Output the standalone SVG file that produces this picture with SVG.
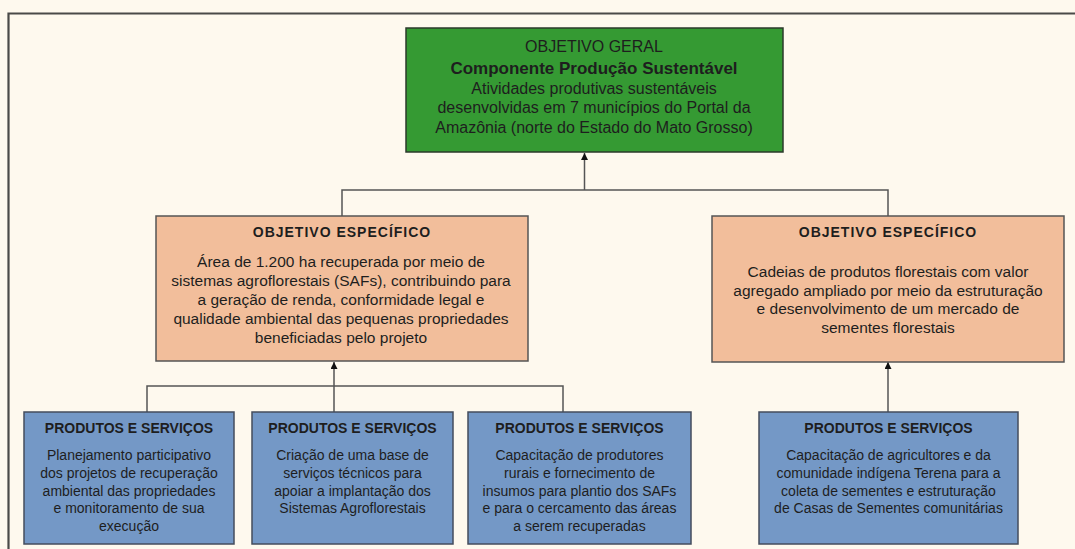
<svg xmlns="http://www.w3.org/2000/svg" width="1075" height="549" viewBox="0 0 1075 549">
<defs>
<style>
.t{font-family:"Liberation Sans",Arial,sans-serif;fill:#1e1e1e;text-anchor:middle}
.g{fill:#359a33;stroke:#2b3a2b;stroke-width:1.5}
.o{fill:#f2be9b;stroke:#555;stroke-width:1.5}
.b{fill:#7498c6;stroke:#444c5c;stroke-width:1.5}
.gt{font-size:16px}
.gb{font-size:17px;font-weight:bold}
.gx{font-size:16px}
.ot{font-size:14px;font-weight:bold;letter-spacing:1px}
.ox{font-size:15.5px}
.bt{font-size:14px;font-weight:bold}
.bx{font-size:14px}
.c{fill:none;stroke:#555;stroke-width:1.5}
</style>
<marker id="arr" viewBox="0 0 10 10" refX="10" refY="5" markerWidth="7" markerHeight="7" orient="auto" markerUnits="userSpaceOnUse">
<path d="M0,0 L10,5 L0,10 z" fill="#111"/>
</marker>
</defs>
<rect x="0" y="0" width="1075" height="549" fill="#fef9ee"/>
<path d="M8.5,549 V13.5 H1075" fill="none" stroke="#4a4a48" stroke-width="2.2"/>

<g id="connectors">
<path class="c" d="M584.5,190 V153" marker-end="url(#arr)"/>
<path class="c" d="M342,216 V190 H888 V216"/>
<path class="c" d="M334,412 V362" marker-end="url(#arr)"/>
<path class="c" d="M147,412 V386 H563 V412"/>
<path class="c" d="M888,412 V362" marker-end="url(#arr)"/>
</g>

<g id="geral">
<rect class="g" x="406" y="28" width="377" height="124"/>
<text class="t gt" x="594" y="52">OBJETIVO GERAL</text>
<text class="t gb" x="594" y="74">Componente Produção Sustentável</text>
<text class="t gx" x="594" y="94">Atividades produtivas sustentáveis</text>
<text class="t gx" x="594" y="113">desenvolvidas em 7 municípios do Portal da</text>
<text class="t gx" x="594" y="133">Amazônia (norte do Estado do Mato Grosso)</text>
</g>

<g id="especifico1">
<rect class="o" x="156" y="216" width="372" height="145"/>
<text class="t ot" x="342" y="237">OBJETIVO ESPECÍFICO</text>
<text class="t ox" x="341" y="267">Área de 1.200 ha recuperada por meio de</text>
<text class="t ox" x="341" y="286">sistemas agroflorestais (SAFs), contribuindo para</text>
<text class="t ox" x="341" y="305">a geração de renda, conformidade legal e</text>
<text class="t ox" x="341" y="324">qualidade ambiental das pequenas propriedades</text>
<text class="t ox" x="341" y="343">beneficiadas pelo projeto</text>
</g>

<g id="especifico2">
<rect class="o" x="712" y="216" width="352" height="146"/>
<text class="t ot" x="888" y="237">OBJETIVO ESPECÍFICO</text>
<text class="t ox" x="888" y="277">Cadeias de produtos florestais com valor</text>
<text class="t ox" x="888" y="295.5">agregado ampliado por meio da estruturação</text>
<text class="t ox" x="888" y="314">e desenvolvimento de um mercado de</text>
<text class="t ox" x="888" y="332.5">sementes florestais</text>
</g>

<g id="produto1">
<rect class="b" x="24" y="412" width="210" height="132"/>
<text class="t bt" x="129" y="433">PRODUTOS E SERVIÇOS</text>
<text class="t bx" x="129" y="460">Planejamento participativo</text>
<text class="t bx" x="129" y="478">dos projetos de recuperação</text>
<text class="t bx" x="129" y="495.5">ambiental das propriedades</text>
<text class="t bx" x="129" y="513">e monitoramento de sua</text>
<text class="t bx" x="129" y="530.5">execução</text>
</g>

<g id="produto2">
<rect class="b" x="252" y="412" width="201" height="132"/>
<text class="t bt" x="352.5" y="433">PRODUTOS E SERVIÇOS</text>
<text class="t bx" x="352.5" y="460">Criação de uma base de</text>
<text class="t bx" x="352.5" y="478">serviços técnicos para</text>
<text class="t bx" x="352.5" y="495.5">apoiar a implantação dos</text>
<text class="t bx" x="352.5" y="513">Sistemas Agroflorestais</text>
</g>

<g id="produto3">
<rect class="b" x="468" y="412" width="223" height="132"/>
<text class="t bt" x="579.5" y="433">PRODUTOS E SERVIÇOS</text>
<text class="t bx" x="579.5" y="460">Capacitação de produtores</text>
<text class="t bx" x="579.5" y="478">rurais e fornecimento de</text>
<text class="t bx" x="579.5" y="495.5">insumos para plantio dos SAFs</text>
<text class="t bx" x="579.5" y="513">e para o cercamento das áreas</text>
<text class="t bx" x="579.5" y="530.5">a serem recuperadas</text>
</g>

<g id="produto4">
<rect class="b" x="759" y="412" width="259" height="132"/>
<text class="t bt" x="888.5" y="433">PRODUTOS E SERVIÇOS</text>
<text class="t bx" x="888.5" y="460">Capacitação de agricultores e da</text>
<text class="t bx" x="888.5" y="478">comunidade indígena Terena para a</text>
<text class="t bx" x="888.5" y="495.5">coleta de sementes e estruturação</text>
<text class="t bx" x="888.5" y="513">de Casas de Sementes comunitárias</text>
</g>
</svg>
